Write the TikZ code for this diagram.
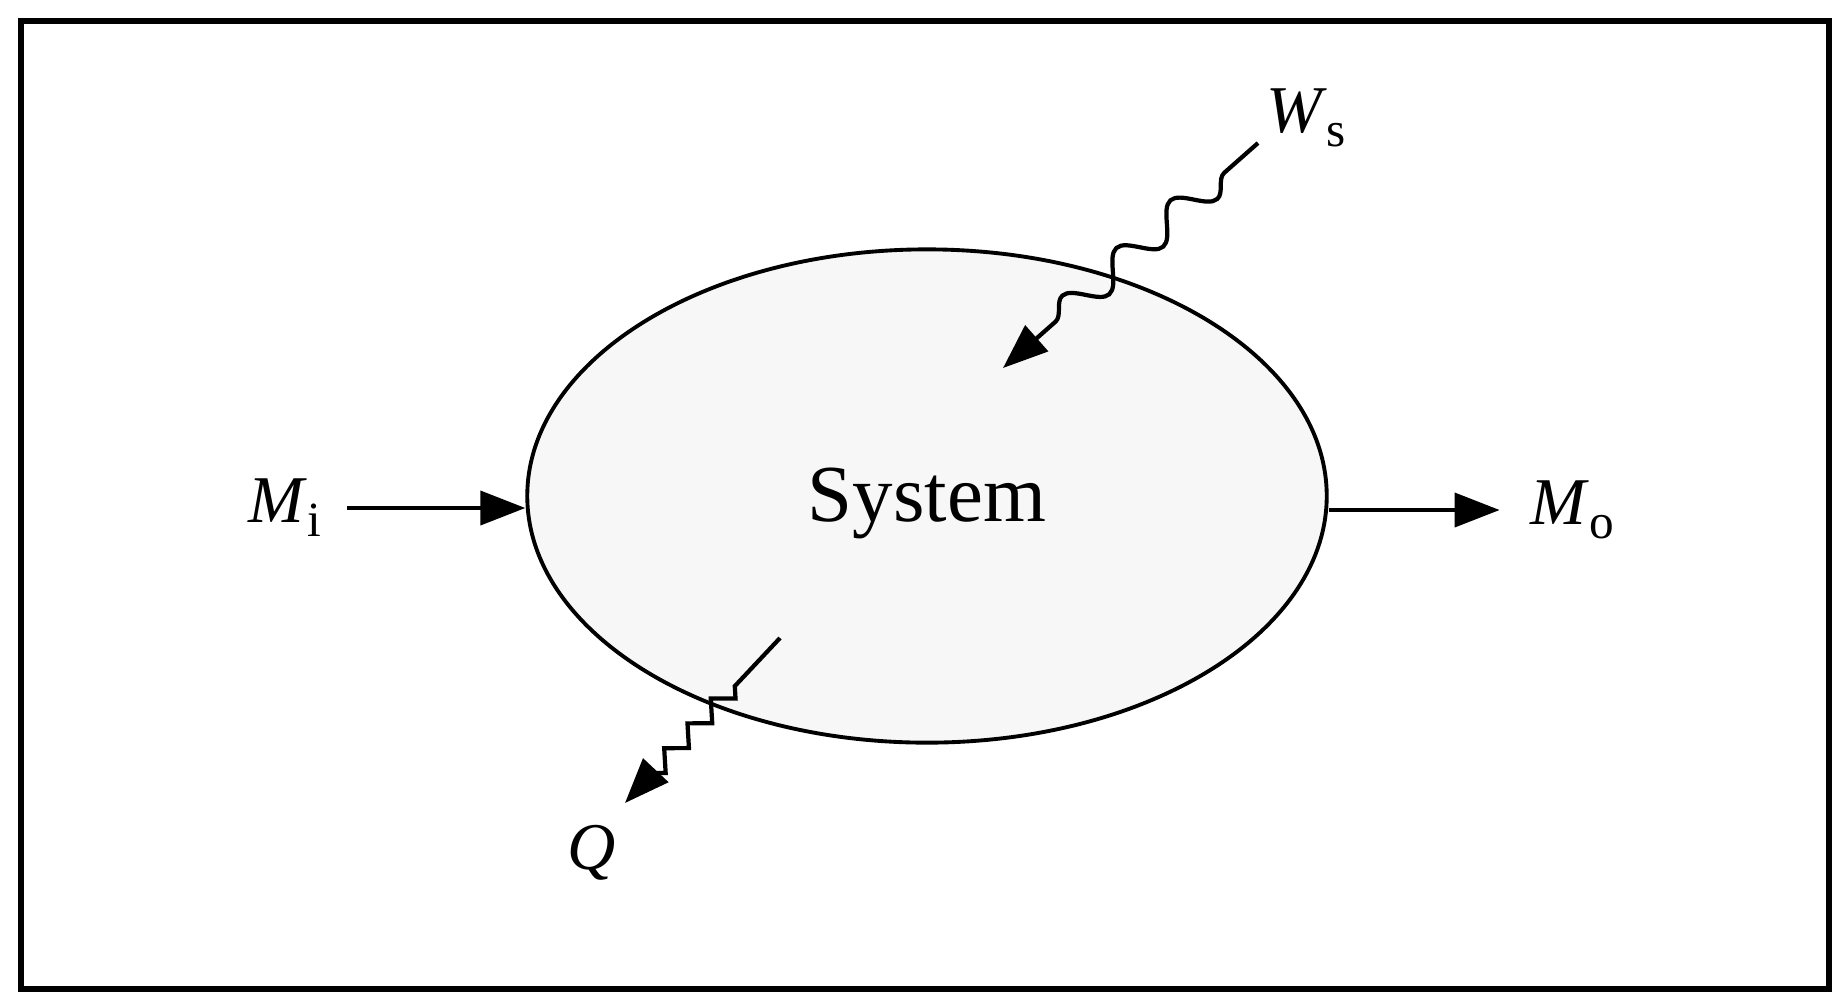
\documentclass[tikz,border=0pt]{standalone}
\usepackage{fontspec}
\setmainfont{Liberation Serif}
\usetikzlibrary{shapes.geometric,arrows.meta,decorations.pathmorphing,calc}
\newcommand\flowlbl[2]{\textit{#1}\raisebox{-0.45ex}{\fontsize{14}{14}\selectfont #2}}
\begin{document}
\begin{tikzpicture}[x=0.01cm,y=-0.01cm,
  lbl/.style={inner sep=0pt,font=\fontsize{19}{22}\selectfont},
  arr/.style={line width=1.1pt,-{Triangle[length=0.45cm,width=0.34cm]}},
  wave/.style={line width=1.2pt,decorate,decoration={snake,amplitude=0.15cm,segment length=0.72cm,pre length=0.45cm,post length=0.45cm}},
  zig/.style={line width=1.2pt,decorate,decoration={zigzag,amplitude=0.09cm,segment length=0.34cm,pre length=0.66cm,post length=0.3cm}}]
\useasboundingbox (0,0) rectangle (1833,993);
\draw[line width=1.6pt] (21,21) rectangle (1829,989);
\node[draw,ellipse,line width=1.1pt,fill=black!3,minimum width=7.99cm,minimum height=4.93cm,inner sep=0pt] (sys) at (927,496) {};
\node[inner sep=0pt,font=\fontsize{23}{26}\selectfont,anchor=base] (systxt) at (927,521) {System};
\node[lbl] (mi) at (285,508) {\flowlbl{M}{i}};
\node[lbl] (mo) at (1572,510) {\flowlbl{M}{o}};
\node[lbl] (ws) at (1306,118) {\flowlbl{W}{s}};
\node[lbl] (q) at (592,853) {\textit{Q}};
\coordinate (wsstart) at (1258,143);
\coordinate (wstip) at (1003,368);
\coordinate (qstart) at (780,638);
\coordinate (qtip) at (625,803);
\draw[arr,shorten <=0.25cm] (mi.east) -- (mi.east -| sys.west);
\draw[arr,shorten >=0.3cm] (mo.west -| sys.east) -- (mo.west);
\draw[arr,wave] (wsstart) -- (wstip);
\draw[arr,zig] (qstart) -- (qtip);
\end{tikzpicture}
\end{document}
